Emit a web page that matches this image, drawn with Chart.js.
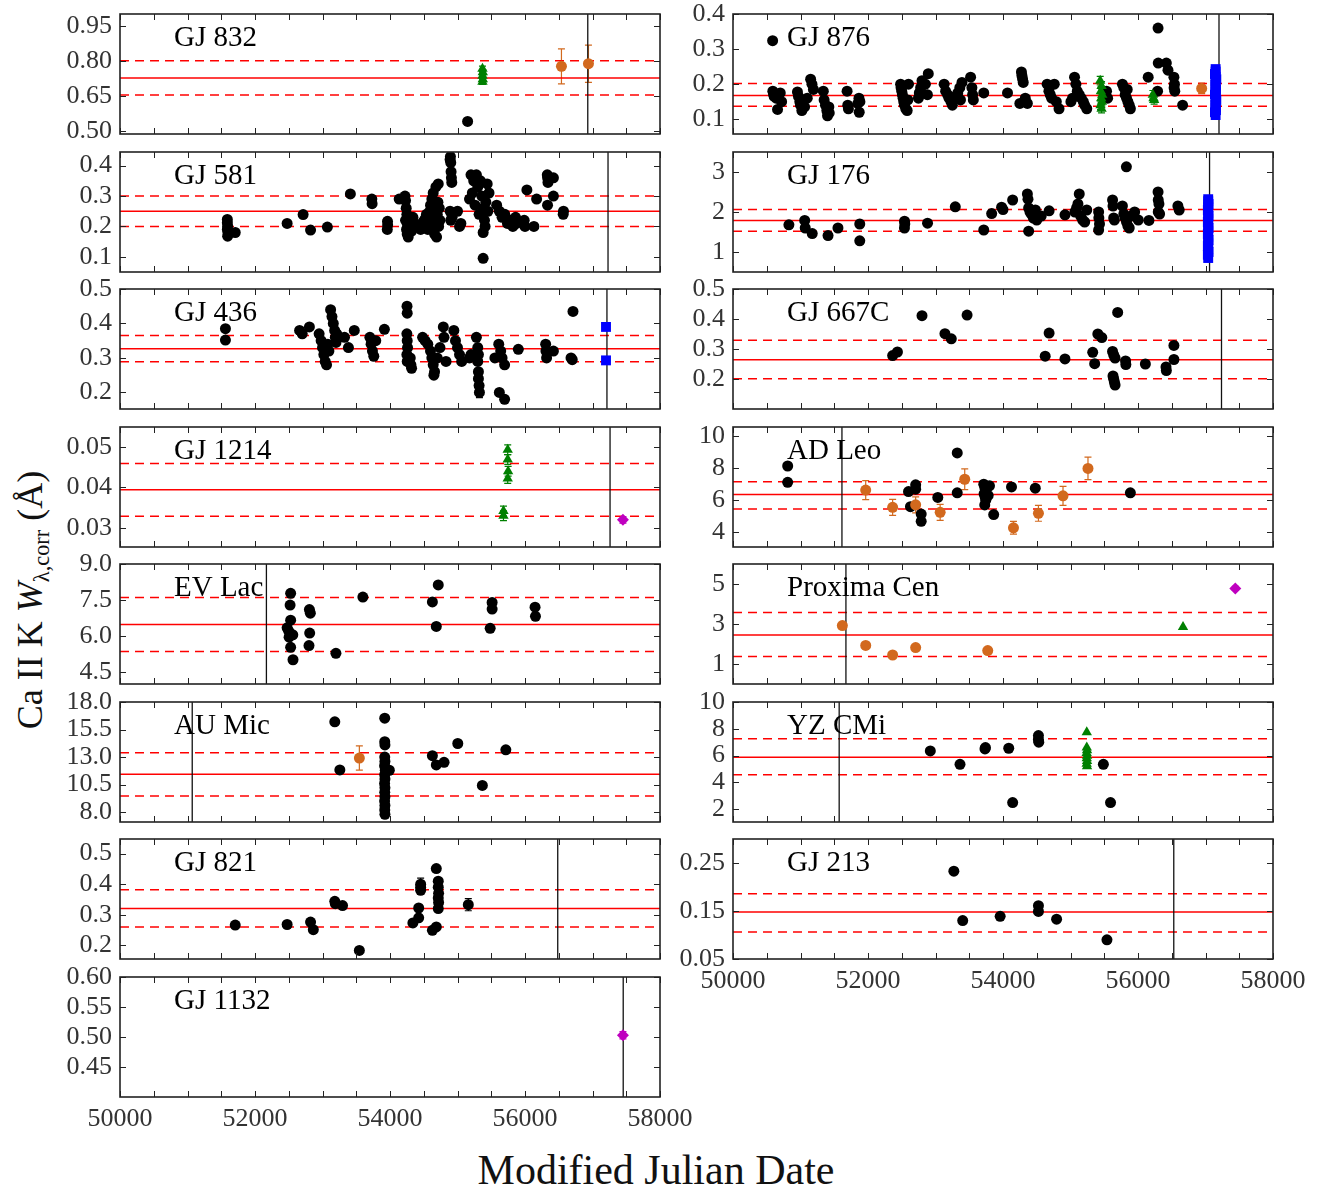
<!DOCTYPE html>
<html>
<head>
<meta charset="utf-8">
<script src="https://cdn.jsdelivr.net/npm/chart.js@4.4.1/dist/chart.umd.min.js"></script>
<style>
body { margin: 0; background: #fff; }
#fig { position: relative; width: 1330px; height: 1190px; overflow: hidden; font-family: "Liberation Serif", serif; }
#fig canvas { position: absolute; }
#ytitle { position: absolute; left: 32px; top: 600px; transform: translate(-50%, -50%) rotate(-90deg); white-space: nowrap; font-size: 36px; color: #111; }
#ytitle sub { font-size: 0.62em; vertical-align: -0.35em; }
#xtitle { position: absolute; left: 656px; top: 1170px; transform: translate(-50%, -50%); white-space: nowrap; font-size: 42px; color: #111; }
</style>
</head>
<body>
<div id="fig">
  <div id="ytitle">Ca II K <i>W</i><sub>λ,corr</sub> (Å)</div>
  <div id="xtitle">Modified Julian Date</div>
</div>
<script>
// points are [MJD, W, error(optional)]
const gj832Black = [[55150, 0.54]];
const gj832Green = [[55370, 0.765, 0.012], [55375, 0.75, 0.012], [55370, 0.735, 0.012], [55375, 0.72, 0.012], [55370, 0.71, 0.012]];
const gj832Orange = [[56540, 0.776, 0.075], [56940, 0.787, 0.08]];

const gj581Black = [
  [51590, 0.223], [51590, 0.212], [51595, 0.201], [51590, 0.19], [51600, 0.179], [51595, 0.168], [51707, 0.18],
  [52476, 0.21], [52713, 0.239], [52823, 0.188], [53072, 0.198], [53413, 0.307], [53731, 0.29], [53735, 0.275],
  [53963, 0.217], [53965, 0.205], [53960, 0.19], [54136, 0.29],
  [54222, 0.3], [54230, 0.285], [54240, 0.26], [54250, 0.24], [54230, 0.22], [54260, 0.205], [54245, 0.19], [54255, 0.175],
  [54270, 0.165], [54300, 0.2], [54320, 0.185], [54340, 0.23], [54360, 0.21],
  [54454, 0.19], [54470, 0.205], [54490, 0.215], [54510, 0.2], [54520, 0.225], [54540, 0.24], [54560, 0.19], [54580, 0.21],
  [54590, 0.25], [54600, 0.27], [54610, 0.23], [54620, 0.29], [54630, 0.2], [54640, 0.31], [54650, 0.26], [54660, 0.175],
  [54670, 0.22], [54680, 0.33], [54690, 0.165], [54700, 0.24], [54710, 0.28], [54715, 0.34], [54720, 0.2], [54730, 0.26], [54740, 0.22],
  [54890, 0.42], [54895, 0.43], [54900, 0.41], [54905, 0.38], [54910, 0.36], [54915, 0.345], [54890, 0.25], [54900, 0.22],
  [54920, 0.23], [55000, 0.25], [55030, 0.2], [55050, 0.21],
  [55178, 0.29], [55200, 0.37], [55220, 0.31], [55240, 0.35], [55260, 0.27], [55280, 0.37], [55300, 0.33], [55320, 0.24],
  [55340, 0.35], [55360, 0.3], [55380, 0.26], [55400, 0.22], [55409, 0.2], [55420, 0.28], [55440, 0.34], [55467, 0.31],
  [55380, 0.18], [55380, 0.095], [55450, 0.25],
  [55580, 0.27], [55620, 0.25], [55660, 0.23], [55700, 0.24], [55740, 0.21], [55780, 0.22], [55820, 0.2], [55860, 0.23],
  [55872, 0.21], [55988, 0.22], [56000, 0.2], [56028, 0.32], [56132, 0.2], [56172, 0.29],
  [56330, 0.37], [56335, 0.36], [56340, 0.345], [56334, 0.27], [56421, 0.36], [56421, 0.3], [56566, 0.24], [56570, 0.25]
];

const gj436Black = [
  [51562, 0.385], [51562, 0.352], [52661, 0.38], [52700, 0.37], [52806, 0.39],
  [52950, 0.37], [52980, 0.35], [53000, 0.33], [53020, 0.31], [53040, 0.29], [53060, 0.28], [53080, 0.34], [53095, 0.32],
  [53120, 0.44], [53140, 0.42], [53160, 0.40], [53180, 0.38], [53190, 0.36], [53200, 0.345], [53211, 0.37],
  [53326, 0.36], [53384, 0.33], [53471, 0.38],
  [53702, 0.36], [53720, 0.34], [53740, 0.32], [53760, 0.305], [53789, 0.35], [53917, 0.383],
  [54252, 0.45], [54255, 0.43], [54250, 0.37], [54255, 0.35], [54260, 0.33], [54250, 0.31], [54255, 0.29], [54310, 0.28], [54300, 0.3], [54320, 0.27],
  [54483, 0.36], [54520, 0.35], [54560, 0.34], [54600, 0.32], [54620, 0.3], [54640, 0.28], [54660, 0.26], [54650, 0.25],
  [54700, 0.3], [54740, 0.33], [54790, 0.39], [54800, 0.36], [54830, 0.29],
  [54946, 0.38], [54970, 0.35], [55000, 0.33], [55030, 0.31], [55062, 0.29],
  [55178, 0.3], [55200, 0.31], [55280, 0.36], [55300, 0.33], [55310, 0.31], [55300, 0.29], [55310, 0.26], [55310, 0.24], [55320, 0.22], [55325, 0.2, 0.015],
  [55554, 0.3], [55611, 0.34], [55640, 0.32], [55660, 0.3], [55698, 0.28], [55620, 0.2], [55698, 0.18],
  [55901, 0.325], [56306, 0.34], [56310, 0.32], [56320, 0.3], [56421, 0.32], [56682, 0.3], [56700, 0.295], [56711, 0.435]
];
const gj436Blue = [[57200, 0.39], [57200, 0.293]];

const gj1214Green = [[55744, 0.0493, 0.0012], [55744, 0.0469, 0.0012], [55750, 0.044, 0.0012], [55744, 0.0422, 0.0012], [55681, 0.0342, 0.0012], [55681, 0.033, 0.0012]];
const gj1214Magenta = [[57451, 0.032, 0.0008]];

const evLacBlack = [
  [52528, 7.78], [52520, 7.29], [52528, 6.66], [52476, 6.34], [52500, 6.2], [52505, 5.95], [52560, 6.05], [52528, 5.53], [52563, 5.01],
  [52806, 7.1], [52820, 6.95], [52810, 6.12], [52800, 5.6], [53199, 5.28], [53598, 7.62], [54628, 7.42], [54686, 6.4], [54715, 8.13],
  [55484, 6.32], [55513, 7.4], [55513, 7.12], [56149, 7.2], [56155, 6.82]
];

const auMicBlack = [
  [53182, 16.2], [53257, 11.83], [53922, 16.53], [53922, 14.4], [53925, 14.1], [53922, 13.0], [53925, 12.6], [53920, 12.2],
  [53930, 11.8], [53922, 11.4], [53925, 11.0], [53920, 10.6], [53925, 10.2], [53922, 9.8], [53925, 9.4], [53920, 9.0],
  [53925, 8.6], [53922, 8.2], [53925, 7.8], [53990, 11.8], [54628, 13.12], [54686, 12.28], [54801, 12.52], [55004, 14.23],
  [55368, 10.42], [55716, 13.66]
];
const auMicOrange = [[53546, 12.91, 1.1]];

const gj821Black = [
  [51707, 0.266], [52476, 0.268], [52823, 0.276], [52864, 0.251], [53182, 0.344], [53190, 0.336], [53297, 0.33], [53546, 0.183],
  [54339, 0.273], [54425, 0.29], [54425, 0.322], [54454, 0.40, 0.02], [54454, 0.39], [54454, 0.38], [54628, 0.249], [54686, 0.26],
  [54686, 0.451], [54715, 0.41], [54715, 0.39], [54720, 0.37], [54715, 0.355], [54720, 0.34], [54715, 0.32], [55160, 0.333, 0.02]
];

const gj1132Magenta = [[57451, 0.503, 0.006]];

const gj876Black = [
  [50587, 0.324], [50590, 0.18], [50600, 0.172], [50610, 0.165], [50640, 0.16], [50700, 0.175], [50720, 0.15], [50660, 0.128],
  [50955, 0.178], [50970, 0.165], [50990, 0.15], [51000, 0.14], [51020, 0.125], [51060, 0.135], [51100, 0.16], [51150, 0.214], [51170, 0.2], [51191, 0.185],
  [51338, 0.18], [51350, 0.155], [51370, 0.14], [51390, 0.125], [51400, 0.11], [51426, 0.118], [51420, 0.135],
  [51690, 0.18], [51700, 0.14], [51710, 0.13], [51866, 0.16], [51850, 0.145], [51870, 0.12], [51880, 0.15],
  [52483, 0.2], [52490, 0.19], [52500, 0.18], [52510, 0.17], [52520, 0.16], [52530, 0.15], [52540, 0.14], [52560, 0.13], [52580, 0.125], [52600, 0.2], [52590, 0.155],
  [52747, 0.16], [52760, 0.175], [52780, 0.19], [52800, 0.21], [52850, 0.2], [52893, 0.23], [52880, 0.17],
  [53128, 0.2], [53150, 0.18], [53180, 0.17], [53200, 0.16], [53230, 0.15], [53250, 0.14], [53300, 0.165], [53330, 0.175], [53360, 0.19], [53392, 0.205], [53370, 0.155],
  [53520, 0.22], [53539, 0.19], [53550, 0.17], [53560, 0.155], [53715, 0.175], [54067, 0.175],
  [54273, 0.235], [54280, 0.225], [54290, 0.215], [54300, 0.205], [54330, 0.16], [54361, 0.145], [54250, 0.145],
  [54654, 0.2], [54680, 0.18], [54700, 0.17], [54720, 0.16], [54760, 0.2], [54790, 0.15], [54830, 0.13],
  [55006, 0.15], [55030, 0.16], [55060, 0.22], [55080, 0.2], [55100, 0.18], [55130, 0.17], [55160, 0.16], [55190, 0.15], [55210, 0.14], [55241, 0.13],
  [55534, 0.18], [55550, 0.16],
  [55769, 0.2], [55790, 0.19], [55810, 0.17], [55830, 0.16], [55850, 0.15], [55870, 0.14], [55887, 0.13], [55840, 0.185],
  [56151, 0.22], [56297, 0.36], [56290, 0.18], [56300, 0.26], [56420, 0.26], [56444, 0.24],
  [56532, 0.22], [56540, 0.2], [56535, 0.19], [56545, 0.18], [56661, 0.14]
];
const gj876Green = [
  [55440, 0.21, 0.012], [55460, 0.195, 0.012], [55450, 0.18, 0.012], [55470, 0.17, 0.012], [55455, 0.16, 0.012], [55465, 0.15, 0.012],
  [55445, 0.14, 0.012], [55460, 0.13, 0.012], [56220, 0.17, 0.012], [56239, 0.155, 0.012], [56230, 0.16, 0.012]
];
const gj876Orange = [[56943, 0.188, 0.015]];
const gj876Blue = [
  [57150, 0.112], [57140, 0.12], [57155, 0.126], [57150, 0.134], [57145, 0.141], [57150, 0.149], [57160, 0.155], [57150, 0.163],
  [57140, 0.171], [57150, 0.178], [57155, 0.184], [57150, 0.192], [57145, 0.199], [57150, 0.207], [57160, 0.214], [57150, 0.221],
  [57140, 0.229], [57150, 0.236], [57150, 0.243]
];

const gj176Black = [
  [50828, 1.68], [51062, 1.79], [51070, 1.6], [51174, 1.46], [51408, 1.41], [51555, 1.6], [51878, 1.7], [51878, 1.28],
  [52541, 1.77], [52545, 1.7], [52540, 1.6], [52882, 1.72], [53293, 2.13], [53715, 1.55], [53832, 1.96], [53979, 2.12], [54000, 2.06], [54143, 2.3],
  [54361, 2.45], [54370, 2.32], [54380, 2.1], [54400, 2.0], [54420, 1.95], [54450, 1.85], [54480, 2.05], [54500, 1.8], [54566, 1.9], [54380, 1.52],
  [54683, 2.03], [54918, 1.93],
  [55065, 2.0], [55090, 2.1], [55110, 2.2], [55130, 2.45], [55150, 1.9], [55180, 1.8], [55210, 1.75], [55241, 2.05],
  [55417, 2.0], [55420, 1.85], [55430, 1.7], [55417, 1.55], [55623, 2.3], [55630, 2.15], [55640, 1.85], [55650, 1.8],
  [55769, 2.15], [55790, 1.95], [55810, 1.85], [55830, 1.75], [55850, 1.65], [55870, 1.6], [55900, 1.9], [55950, 2.0], [56004, 1.8], [55828, 3.13],
  [56162, 1.79], [56297, 2.5], [56300, 2.3], [56310, 2.2], [56300, 2.0], [56320, 1.95], [56591, 2.15], [56610, 2.05]
];
const gj176Blue = [
  [57040, 0.85], [57035, 0.93], [57045, 1.0], [57040, 1.08], [57035, 1.15], [57040, 1.22], [57045, 1.3], [57040, 1.38],
  [57035, 1.45], [57040, 1.52], [57045, 1.6], [57040, 1.68], [57035, 1.75], [57040, 1.83], [57045, 1.9], [57040, 1.97],
  [57035, 2.05], [57040, 2.12], [57045, 2.2], [57040, 2.27], [57040, 2.32]
];

const gj667cBlack = [
  [52365, 0.278], [52436, 0.29], [52800, 0.411], [53140, 0.351], [53234, 0.334], [53468, 0.413], [54625, 0.276], [54683, 0.353],
  [54918, 0.267], [55329, 0.289], [55358, 0.251], [55405, 0.35], [55464, 0.338], [55623, 0.292], [55640, 0.28], [55660, 0.27],
  [55630, 0.21], [55640, 0.2], [55650, 0.19], [55660, 0.18], [55699, 0.422], [55816, 0.26], [55820, 0.248], [56109, 0.25],
  [56415, 0.24], [56420, 0.228], [56532, 0.312], [56532, 0.265]
];

const adLeoBlack = [
  [50810, 8.14], [50810, 7.12], [52600, 6.54], [52629, 5.59], [52706, 6.96], [52706, 6.69], [52788, 5.13], [52788, 4.68],
  [53034, 6.17], [53322, 8.96], [53322, 6.46], [53715, 7.0], [53730, 6.8], [53740, 6.6], [53720, 6.4], [53735, 6.2],
  [53745, 6.0], [53730, 5.7], [53862, 5.1], [53800, 6.9], [53780, 6.3], [54126, 6.83], [54478, 6.75], [55887, 6.46]
];
const adLeoOrange = [
  [51966, 6.63, 0.6], [52365, 5.55, 0.5], [52706, 5.71, 0.5], [53069, 5.24, 0.5], [53433, 7.31, 0.65],
  [54155, 4.27, 0.4], [54525, 5.18, 0.5], [54889, 6.27, 0.6], [55259, 7.99, 0.7]
];

const proximaOrange = [[51620, 2.92, 0.15], [51966, 1.93, 0.1], [52365, 1.45, 0.1], [52706, 1.82, 0.1], [53774, 1.67, 0.1]];
const proximaGreen = [[56667, 2.85]];
const proximaMagenta = [[57442, 4.78, 0.1]];

const yzCmiBlack = [
  [52923, 6.35], [53363, 5.35], [53733, 6.5], [53740, 6.6], [54085, 6.55], [54143, 2.5], [54525, 7.5], [54525, 7.2],
  [54530, 7.0], [55487, 5.35], [55593, 2.5]
];
const yzCmiGreen = [[55241, 7.75], [55241, 6.6], [55245, 6.4], [55240, 6.2], [55245, 6.0], [55241, 5.8], [55245, 5.6], [55240, 5.4], [55245, 5.2]];

const gj213Black = [[53272, 0.233], [53403, 0.130], [53958, 0.139], [54525, 0.161], [54525, 0.149], [54794, 0.133], [55540, 0.090]];

const xLabels = [50000, 52000, 54000, 56000, 58000];

// star, column, row, y range, y ticks, decimals, mean / -1 sigma / +1 sigma, vertical line
const panels = [
  { name: 'GJ 832', col: 0, row: 0, y: [0.486, 1.0], ticks: [0.50, 0.65, 0.80, 0.95], dec: 2, ref: [0.726, 0.653, 0.80], vline: 56930,
    sets: { black: gj832Black, green: gj832Green, orange: gj832Orange } },
  { name: 'GJ 581', col: 0, row: 1, y: [0.05, 0.445], ticks: [0.1, 0.2, 0.3, 0.4], dec: 1, ref: [0.25, 0.2, 0.3], vline: 57230,
    sets: { black: gj581Black } },
  { name: 'GJ 436', col: 0, row: 2, y: [0.152, 0.5], ticks: [0.2, 0.3, 0.4, 0.5], dec: 1, ref: [0.327, 0.289, 0.365], vline: 57214,
    sets: { black: gj436Black, blue: gj436Blue } },
  { name: 'GJ 1214', col: 0, row: 3, y: [0.0253, 0.0549], ticks: [0.03, 0.04, 0.05], dec: 2, ref: [0.0394, 0.0329, 0.0459], vline: 57260,
    sets: { green: gj1214Green, magenta: gj1214Magenta } },
  { name: 'EV Lac', col: 0, row: 4, y: [4.0, 9.0], ticks: [4.5, 6.0, 7.5, 9.0], dec: 1, ref: [6.48, 5.35, 7.6], vline: 52169,
    sets: { black: evLacBlack } },
  { name: 'AU Mic', col: 0, row: 5, y: [7.1, 18.0], ticks: [8.0, 10.5, 13.0, 15.5, 18.0], dec: 1, ref: [11.44, 9.47, 13.39], vline: 51070,
    sets: { black: auMicBlack, orange: auMicOrange } },
  { name: 'GJ 821', col: 0, row: 6, y: [0.155, 0.548], ticks: [0.2, 0.3, 0.4, 0.5], dec: 1, ref: [0.32, 0.26, 0.382], vline: 56485,
    sets: { black: gj821Black } },
  { name: 'GJ 1132', col: 0, row: 7, y: [0.40, 0.60], ticks: [0.45, 0.50, 0.55, 0.60], dec: 2, ref: null, vline: 57455, xlab: true,
    sets: { magenta: gj1132Magenta } },
  { name: 'GJ 876', col: 1, row: 0, y: [0.058, 0.40], ticks: [0.1, 0.2, 0.3, 0.4], dec: 1, ref: [0.168, 0.137, 0.202], vline: 57200,
    sets: { black: gj876Black, green: gj876Green, orange: gj876Orange, blue: gj876Blue } },
  { name: 'GJ 176', col: 1, row: 1, y: [0.5, 3.5], ticks: [1, 2, 3], dec: 0, ref: [1.79, 1.52, 2.06], vline: 57060,
    sets: { black: gj176Black, blue: gj176Blue } },
  { name: 'GJ 667C', col: 1, row: 2, y: [0.1, 0.5], ticks: [0.2, 0.3, 0.4, 0.5], dec: 1, ref: [0.264, 0.201, 0.329], vline: 57237,
    sets: { black: gj667cBlack } },
  { name: 'AD Leo', col: 1, row: 3, y: [3.07, 10.58], ticks: [4, 6, 8, 10], dec: 0, ref: [6.36, 5.45, 7.16], vline: 51614,
    sets: { black: adLeoBlack, orange: adLeoOrange } },
  { name: 'Proxima Cen', col: 1, row: 4, y: [0, 6], ticks: [1, 3, 5], dec: 0, ref: [2.45, 1.37, 3.57], vline: 51673,
    sets: { orange: proximaOrange, green: proximaGreen, magenta: proximaMagenta } },
  { name: 'YZ CMi', col: 1, row: 5, y: [1.05, 10], ticks: [2, 4, 6, 8, 10], dec: 0, ref: [5.88, 4.58, 7.25], vline: 51573,
    sets: { black: yzCmiBlack, green: yzCmiGreen } },
  { name: 'GJ 213', col: 1, row: 6, y: [0.05, 0.30], ticks: [0.05, 0.15, 0.25], dec: 2, ref: [0.148, 0.106, 0.186], vline: 56530, xlab: true,
    sets: { black: gj213Black } }
];

const MARKERS = {
  black:   { style: 'circle',   color: '#000000', r: 5.5, order: 4 },
  orange:  { style: 'circle',   color: '#d2691e', r: 5.5, order: 3 },
  green:   { style: 'triangle', color: '#008000', r: 6,   order: 2 },
  blue:    { style: 'rect',     color: '#0000ff', r: 7,   order: 2 },
  magenta: { style: 'rectRot',  color: '#bf00bf', r: 6,   order: 2 }
};

const COL_X = [120, 733];
const ROW_Y = [14, 152, 289, 427, 564, 702, 839, 977];
const PLOT_W = 540, PLOT_H = 120;
const PAD_L = 80, PAD_R = 45, PAD = 16, XLAB_H = 40;
const FONT = '"Liberation Serif", serif';

// error bars under the markers, then frame, inward ticks and the star name on top
const decor = {
  id: 'decor',
  beforeDatasetsDraw(chart) {
    const { ctx, scales: { x, y } } = chart;
    ctx.save();
    ctx.lineWidth = 1.2;
    chart.data.datasets.forEach(ds => {
      if (!ds.errs) return;
      ctx.strokeStyle = ds.borderColor;
      ds.data.forEach((pt, i) => {
        const e = ds.errs[i];
        if (!e) return;
        const px = x.getPixelForValue(pt.x);
        const y1 = y.getPixelForValue(pt.y - e), y2 = y.getPixelForValue(pt.y + e);
        ctx.beginPath();
        ctx.moveTo(px, y1); ctx.lineTo(px, y2);
        ctx.moveTo(px - 3.5, y1); ctx.lineTo(px + 3.5, y1);
        ctx.moveTo(px - 3.5, y2); ctx.lineTo(px + 3.5, y2);
        ctx.stroke();
      });
    });
    ctx.restore();
  },
  afterDraw(chart, args, opts) {
    const { ctx, chartArea: a, scales: { x, y } } = chart;
    ctx.save();
    ctx.strokeStyle = '#222';
    ctx.lineWidth = 1;
    ctx.beginPath();
    for (let v = 50000; v <= 58000; v += 500) {
      const px = Math.round(x.getPixelForValue(v)) + 0.5;
      ctx.moveTo(px, a.bottom); ctx.lineTo(px, a.bottom - 6);
      ctx.moveTo(px, a.top); ctx.lineTo(px, a.top + 6);
    }
    opts.ticks.forEach(v => {
      const py = Math.round(y.getPixelForValue(v)) + 0.5;
      ctx.moveTo(a.left, py); ctx.lineTo(a.left + 6, py);
      ctx.moveTo(a.right, py); ctx.lineTo(a.right - 6, py);
    });
    ctx.stroke();
    ctx.lineWidth = 1.6;
    ctx.strokeRect(a.left, a.top, a.right - a.left, a.bottom - a.top);
    ctx.fillStyle = '#000';
    ctx.font = '29px ' + FONT;
    ctx.textBaseline = 'middle';
    ctx.fillText(opts.name, a.left + 54, a.top + 24);
    ctx.restore();
  }
};

function hline(v, x0, x1, dash) {
  return {
    data: [{ x: x0, y: v }, { x: x1, y: v }], showLine: true, pointRadius: 0,
    borderColor: '#ff0000', borderWidth: 1.5, borderDash: dash ? [9, 6] : [], order: 6
  };
}

// keep the plot box fixed: no extra room for half tick labels
function noPad(s) {
  s.paddingTop = 0; s.paddingBottom = 0; s.paddingLeft = 0; s.paddingRight = 0;
}

const fig = document.getElementById('fig');

panels.forEach(p => {
  const left = COL_X[p.col], top = ROW_Y[p.row];
  const w = PAD_L + PLOT_W + PAD_R;
  const h = PAD + PLOT_H + (p.xlab ? XLAB_H : PAD);
  const cv = document.createElement('canvas');
  cv.width = w; cv.height = h;
  cv.style.left = (left - PAD_L) + 'px';
  cv.style.top = (top - PAD) + 'px';
  cv.style.width = w + 'px';
  cv.style.height = h + 'px';
  fig.appendChild(cv);

  const datasets = [];
  if (p.ref) {
    datasets.push(hline(p.ref[0], 50000, 58000, false));
    datasets.push(hline(p.ref[1], 50000, 58000, true));
    datasets.push(hline(p.ref[2], 50000, 58000, true));
  }
  datasets.push({
    data: [{ x: p.vline, y: p.y[0] }, { x: p.vline, y: p.y[1] }], showLine: true, pointRadius: 0,
    borderColor: '#111', borderWidth: 1.3, order: 5
  });
  Object.keys(p.sets).forEach(k => {
    const m = MARKERS[k], pts = p.sets[k];
    datasets.push({
      data: pts.map(q => ({ x: q[0], y: q[1] })),
      errs: pts.map(q => q[2] || 0),
      pointStyle: m.style, pointRadius: m.r, pointBorderWidth: 0,
      backgroundColor: m.color, borderColor: m.color, showLine: false, order: m.order
    });
  });

  new Chart(cv, {
    type: 'scatter',
    data: { datasets },
    options: {
      responsive: false, animation: false, devicePixelRatio: 1,
      layout: { padding: { left: 0, top: PAD, right: PAD_R, bottom: p.xlab ? 0 : PAD } },
      plugins: { legend: { display: false }, tooltip: { enabled: false }, decor: { name: p.name, ticks: p.ticks } },
      scales: {
        x: {
          type: 'linear', min: 50000, max: 58000,
          afterBuildTicks: s => { s.ticks = xLabels.map(v => ({ value: v })); },
          afterFit: s => { s.height = p.xlab ? XLAB_H : 0; noPad(s); },
          grid: { display: false, drawTicks: false }, border: { display: false },
          ticks: { display: !!p.xlab, padding: 7, autoSkip: false, maxRotation: 0, color: '#333',
                   font: { family: FONT, size: 26 }, callback: v => String(v) }
        },
        y: {
          type: 'linear', min: p.y[0], max: p.y[1],
          afterBuildTicks: s => { s.ticks = p.ticks.map(v => ({ value: v })); },
          afterFit: s => { s.width = PAD_L; noPad(s); },
          grid: { display: false, drawTicks: false }, border: { display: false },
          ticks: { padding: 8, autoSkip: false, color: '#333',
                   font: { family: FONT, size: 26 }, callback: v => Number(v).toFixed(p.dec) }
        }
      }
    },
    plugins: [decor]
  });
});
</script>
</body>
</html>
